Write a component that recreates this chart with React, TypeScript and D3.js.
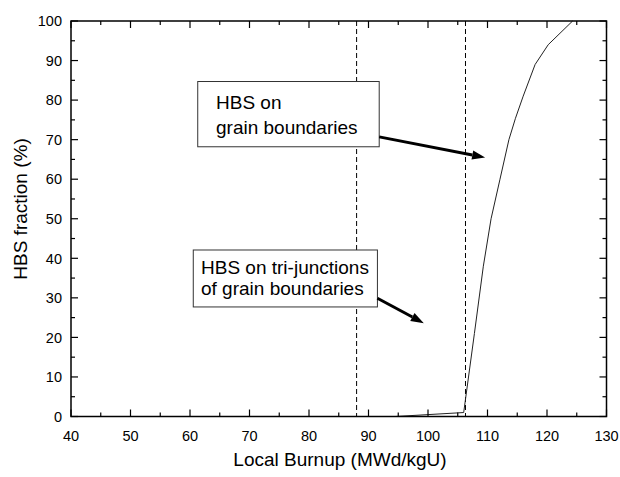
import React from "react";
import * as d3 from "d3";

const burnup = [40, 94.5, 106, 107.8, 109.3, 110.6, 112.1, 113.6, 114.7, 116, 118, 120.2, 124.3];
const fraction = [0, 0, 1, 21, 38, 50, 60, 70, 75.4, 81, 89, 94, 100];
const dashedX = [88, 106.3];
const xTicks = [40, 50, 60, 70, 80, 90, 100, 110, 120, 130];
const yTicks = [0, 10, 20, 30, 40, 50, 60, 70, 80, 90, 100];
const xTitle = "Local Burnup (MWd/kgU)";
const yTitle = "HBS fraction (%)";
const note1 = ["HBS on", "grain boundaries"];
const note2 = ["HBS on tri-junctions", "of grain boundaries"];

const W = 620, H = 477;
const L = 71, R = 606.5, T = 21, B = 416.5;
const FONT = "'Liberation Sans', Arial, Helvetica, sans-serif";

function Arrow({ x1, y1, x2, y2 }: { x1: number; y1: number; x2: number; y2: number }) {
  const ang = Math.atan2(y2 - y1, x2 - x1);
  const hl = 13, hw = 4.5;
  const bx = x2 - hl * Math.cos(ang), by = y2 - hl * Math.sin(ang);
  const px = -Math.sin(ang), py = Math.cos(ang);
  const pts = [
    [x2, y2],
    [bx + px * hw, by + py * hw],
    [bx - px * hw, by - py * hw],
  ];
  return (
    <g>
      <line x1={x1} y1={y1} x2={bx} y2={by} stroke="#000" strokeWidth={3} />
      <polygon points={pts.map((p) => p.join(",")).join(" ")} fill="#000" />
    </g>
  );
}

export default function App() {
  const x = d3.scaleLinear().domain([40, 130]).range([L, R]);
  const y = d3.scaleLinear().domain([0, 100]).range([B, T]);
  const line = d3
    .line<number>()
    .x((_, i) => x(burnup[i]))
    .y((d) => y(d));
  const xMinor = d3.range(45, 130, 10);
  const yMinor = d3.range(5, 100, 10);

  return (
    <svg width={W} height={H} style={{ position: "absolute", left: 0, top: 0, background: "#fff" }} fontFamily={FONT}>
      <rect x={0} y={0} width={W} height={H} fill="#fff" />
      {/* dashed verticals */}
      {dashedX.map((d) => (
        <line key={d} x1={x(d)} x2={x(d)} y1={T} y2={B} stroke="#000" strokeWidth={1} strokeDasharray="5,3" />
      ))}
      {/* curve */}
      <path d={line(fraction) || ""} fill="none" stroke="#222" strokeWidth={1} />
      {/* frame */}
      <rect x={L} y={T} width={R - L} height={B - T} fill="none" stroke="#000" strokeWidth={1.5} />
      {/* x ticks */}
      {xTicks.map((t) => (
        <g key={"xt" + t}>
          <line x1={x(t)} x2={x(t)} y1={B} y2={B - 7} stroke="#000" strokeWidth={1.2} />
          <line x1={x(t)} x2={x(t)} y1={T} y2={T + 7} stroke="#000" strokeWidth={1.2} />
          <text x={x(t)} y={441} fontSize={14.5} textAnchor="middle" fill="#000">
            {t}
          </text>
        </g>
      ))}
      {xMinor.map((t) => (
        <g key={"xm" + t}>
          <line x1={x(t)} x2={x(t)} y1={B} y2={B - 4} stroke="#000" strokeWidth={1.2} />
          <line x1={x(t)} x2={x(t)} y1={T} y2={T + 4} stroke="#000" strokeWidth={1.2} />
        </g>
      ))}
      {/* y ticks */}
      {yTicks.map((t) => (
        <g key={"yt" + t}>
          <line x1={L} x2={L + 7} y1={y(t)} y2={y(t)} stroke="#000" strokeWidth={1.2} />
          <line x1={R} x2={R - 7} y1={y(t)} y2={y(t)} stroke="#000" strokeWidth={1.2} />
          <text x={62} y={y(t)} dy="0.36em" fontSize={14.5} textAnchor="end" fill="#000">
            {t}
          </text>
        </g>
      ))}
      {yMinor.map((t) => (
        <g key={"ym" + t}>
          <line x1={L} x2={L + 4} y1={y(t)} y2={y(t)} stroke="#000" strokeWidth={1.2} />
          <line x1={R} x2={R - 4} y1={y(t)} y2={y(t)} stroke="#000" strokeWidth={1.2} />
        </g>
      ))}
      {/* axis titles */}
      <text x={340} y={466} fontSize={19} textAnchor="middle" fill="#000">
        {xTitle}
      </text>
      <text transform={`translate(27,209) rotate(-90)`} fontSize={19} textAnchor="middle" fill="#000">
        {yTitle}
      </text>
      {/* annotation 1 */}
      <rect x={x(61.3)} y={y(84.7)} width={x(91.8) - x(61.3)} height={y(68.2) - y(84.7)} fill="#fff" stroke="#333" strokeWidth={1} />
      <text x={216} y={108.5} fontSize={19} fill="#000">
        {note1[0]}
      </text>
      <text x={216} y={133.5} fontSize={19} fill="#000">
        {note1[1]}
      </text>
      <Arrow x1={x(91.8)} y1={y(70.7)} x2={x(109.6)} y2={y(65.5)} />
      {/* annotation 2 */}
      <rect x={x(60.55)} y={y(42.1)} width={x(91.5) - x(60.55)} height={y(27.7) - y(42.1)} fill="#fff" stroke="#333" strokeWidth={1} />
      <text x={201} y={274} fontSize={19} fill="#000">
        {note2[0]}
      </text>
      <text x={201} y={295} fontSize={19} fill="#000">
        {note2[1]}
      </text>
      <Arrow x1={x(91.5)} y1={y(29.9)} x2={x(99.3)} y2={y(23.6)} />
    </svg>
  );
}
